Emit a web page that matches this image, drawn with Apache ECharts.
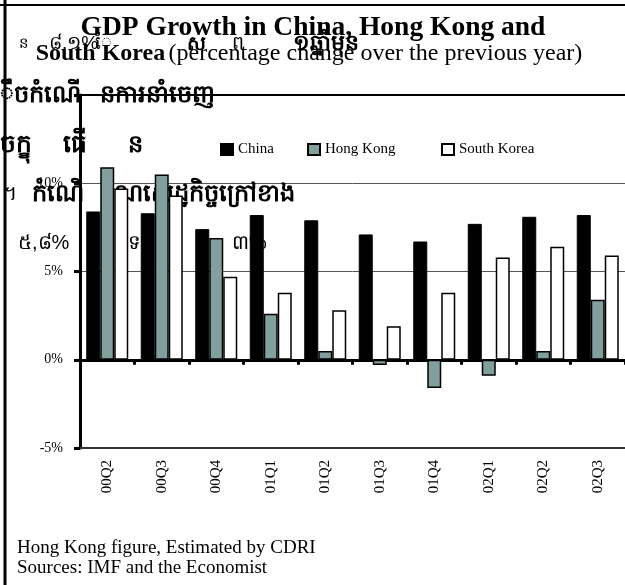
<!DOCTYPE html>
<html><head><meta charset="utf-8">
<script src="https://cdn.jsdelivr.net/npm/echarts@6/dist/echarts.min.js"></script>
<style>html,body{margin:0;padding:0;background:#fff}#c{width:625px;height:585px}</style>
</head><body><div id="c"></div>
<script>
const categories = ['00Q2','00Q3','00Q4','01Q1','01Q2','01Q3','01Q4','02Q1','02Q2','02Q3'];
const china      = [8.4, 8.3, 7.4, 8.2, 7.9, 7.1, 6.7, 7.7, 8.1, 8.2];
const hongKong   = [10.9, 10.5, 6.9, 2.6, 0.5, -0.3, -1.6, -0.9, 0.5, 3.4];
const southKorea = [9.7, 9.3, 4.7, 3.8, 2.8, 1.9, 3.8, 5.8, 6.4, 5.9];
const seriesNames = ['China','Hong Kong','South Korea'];
const titleLine1 = 'GDP Growth in China, Hong Kong and';
const titleBold2 = 'South Korea';
const titleNorm2 = '(percentage change over the previous year)';
const notes = ['Hong Kong figure, Estimated by CDRI', 'Sources: IMF and the Economist'];

const SERIF = "'Liberation Serif','Times New Roman',serif";
const chart = echarts.init(document.getElementById('c'), null, {renderer:'canvas'});

function legendFor(name, left){
  return {data:[{name:name, icon:'rect'}], left:left, top:137, itemWidth:12, itemHeight:11, itemGap:0,
    textStyle:{fontFamily:SERIF, fontSize:15, color:'#000'}};
}
function khmer(text, x, y, size, bold){
  return {type:'text', z:1, zlevel:0,
    style:{x:x, y:y, text:text, textVerticalAlign:'middle',
      font:(bold?'bold ':'')+size+'px sans-serif', fill:'#000'}};
}
const barBase = {type:'bar', barWidth:14, barGap:'0%', xAxisIndex:0, z:3};

chart.setOption({
  animation:false,
  backgroundColor:'#fff',
  grid:{left:80, right:-6, top:95, bottom:137, containLabel:false},
  legend:[legendFor(seriesNames[0],215), legendFor(seriesNames[1],302), legendFor(seriesNames[2],436)],
  xAxis:[
    {type:'category', data:categories,
     axisLine:{onZero:true, lineStyle:{color:'#000', width:3}},
     axisTick:{show:true, length:5, lineStyle:{color:'#000', width:3}},
     axisLabel:{show:false}, splitLine:{show:false}},
    {type:'category', data:categories, position:'bottom',
     axisLine:{show:false, onZero:false}, axisTick:{show:false},
     axisLabel:{rotate:90, margin:12, fontFamily:SERIF, fontSize:15, color:'#000'}}
  ],
  yAxis:{type:'value', min:-5, max:15, interval:5,
    axisLine:{show:true, lineStyle:{color:'#000', width:3}},
    axisTick:{show:true, length:6, lineStyle:{color:'#000', width:3}},
    axisLabel:{margin:17, fontFamily:SERIF, fontSize:14, color:'#000',
      formatter:v => v===15 ? '' : v+'%'},
    splitLine:{show:true, lineStyle:{color:'#555', width:1}}},
  series:[
    Object.assign({}, barBase, {name:seriesNames[0], data:china,
      itemStyle:{color:'#000', borderColor:'#000', borderWidth:1}}),
    Object.assign({}, barBase, {name:seriesNames[1], data:hongKong,
      itemStyle:{color:'#809f9d', borderColor:'#000', borderWidth:1.5}}),
    Object.assign({}, barBase, {name:seriesNames[2], data:southKorea,
      itemStyle:{color:'#fff', borderColor:'#000', borderWidth:1.5},
      markLine:{silent:true, symbol:'none', label:{show:false},
        data:[{yAxis:15, lineStyle:{color:'#000', width:2, type:'solid'}},
              {yAxis:-5, lineStyle:{color:'#333', width:2, type:'solid'}}]}})
  ],
  graphic:[
    {type:'line', z:10, shape:{x1:0, y1:5, x2:625, y2:5}, style:{stroke:'#000', lineWidth:2}},
    {type:'line', z:10, shape:{x1:5, y1:0, x2:5, y2:585}, style:{stroke:'#000', lineWidth:3}},
    {type:'text', z:10, style:{x:313, y:28, text:titleLine1, textAlign:'center', textVerticalAlign:'middle',
      font:"bold 27.5px 'Liberation Serif'", fill:'#000'}},
    {type:'text', z:10, style:{x:309, y:54, text:'{b|'+titleBold2+'} {n|'+titleNorm2+'}', textAlign:'center', textVerticalAlign:'middle',
      rich:{b:{font:"bold 24px 'Liberation Serif'", fill:'#000'}, n:{font:"24px 'Liberation Serif'", fill:'#000'}}}},
    khmer('ន', 19, 44, 15, false),
    khmer('៨.១%', 49, 44, 19, false),
    khmer('ែ', 95, 44, 19, false),
    khmer('ស', 187, 44, 20, true),
    khmer('ព', 232, 44, 19, false),
    khmer('១ឆ្នាំមុន', 293, 44, 22, true),
    khmer('ឹចកំណើ', 0, 95, 24, true),
    khmer('នការនាំចេញ', 100, 95, 24, true),
    khmer('ចក្ខុ', 0, 145, 25, true),
    khmer('ធើ', 63, 145, 25, true),
    khmer('ន', 128, 145, 24, true),
    khmer('។', 4, 194, 20, false),
    khmer('កំណើ', 32, 194, 24, true),
    khmer('ណសេដ្ឋកិច្ចក្រៅខាង', 114, 194, 24, true),
    khmer('៥,៨%', 18, 243, 20, false),
    khmer('ទ', 128, 243, 20, false),
    khmer('៣%', 232, 243, 20, false),
    {type:'text', z:10, style:{x:17, y:548, text:notes[0], textVerticalAlign:'middle', font:"19px 'Liberation Serif'", fill:'#000'}},
    {type:'text', z:10, style:{x:17, y:568, text:notes[1], textVerticalAlign:'middle', font:"19px 'Liberation Serif'", fill:'#000'}}
  ]
});
</script></body></html>
